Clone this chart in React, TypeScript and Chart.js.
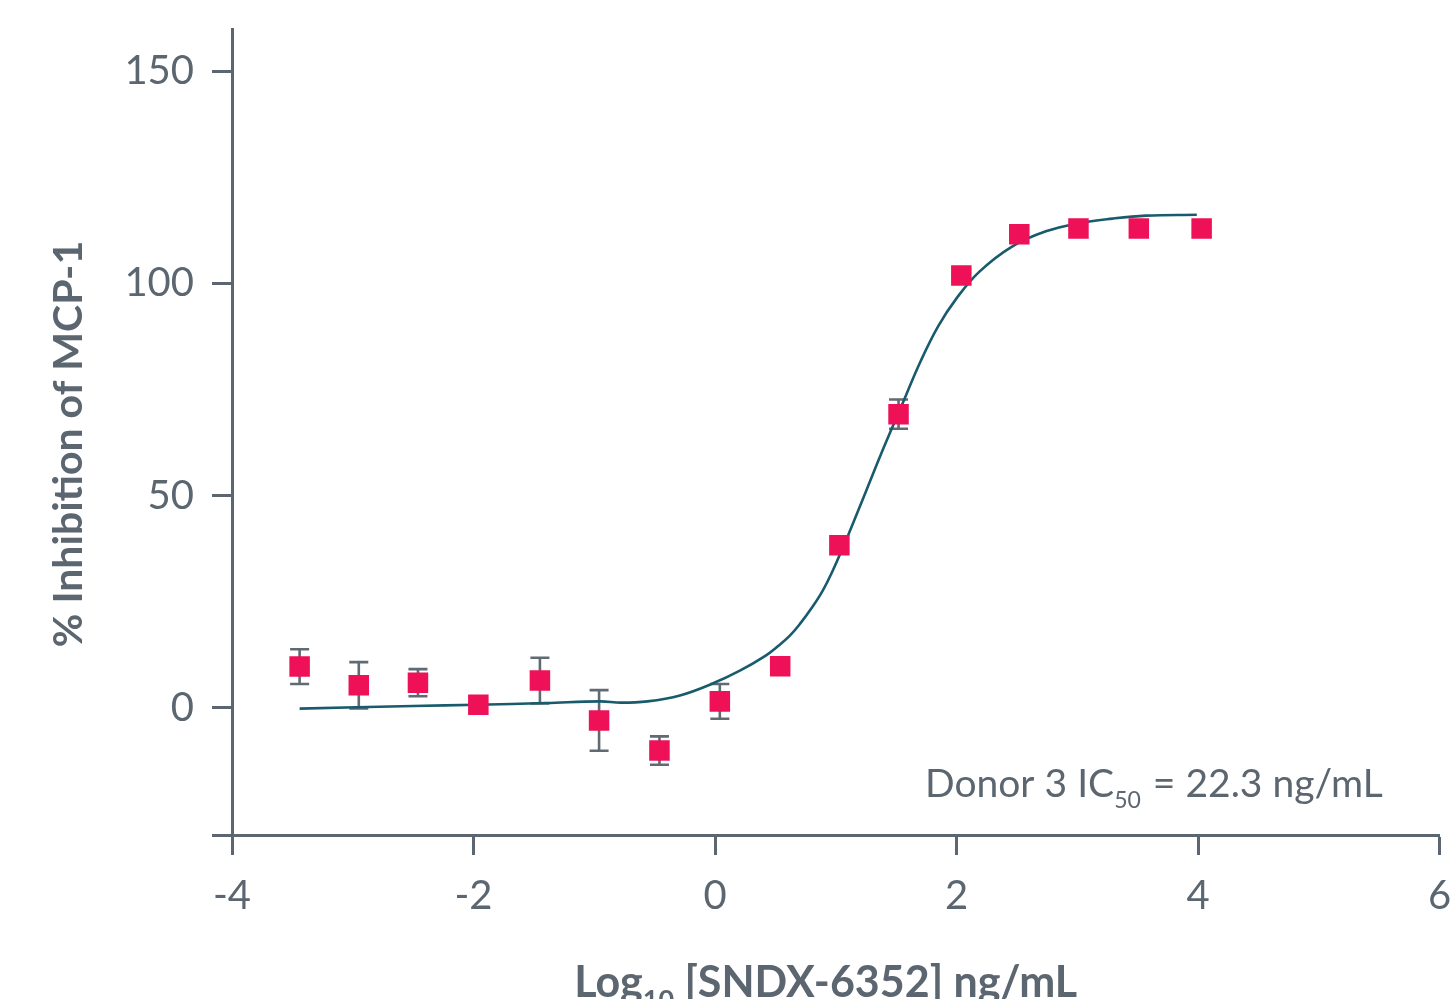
import React, { useEffect, useRef } from "react";
import { Chart, registerables } from "chart.js";

Chart.register(...registerables);

// ---- Data ----
const doseLog = [-3.44, -2.95, -2.46, -1.96, -1.45, -0.96, -0.46, 0.04, 0.54, 1.03, 1.52, 2.04, 2.52, 3.01, 3.51, 4.03];
const inhibition = [9.7, 5.3, 5.9, 0.7, 6.4, -3.0, -10.1, 1.5, 9.8, 38.3, 69.2, 101.9, 111.6, 113.0, 113.0, 113.0];
const errorSD = [4.1, 5.45, 3.2, 0, 5.4, 7.15, 3.35, 4.1, 0, 0, 3.45, 0, 0, 0, 0, 0];

const fitX = [-3.44, -2.5, -1.97, -1.4, -0.95, -0.78, -0.56, -0.29, -0.02, 0.21, 0.42, 0.52, 0.62, 0.71, 0.8, 0.89, 0.97, 1.1, 1.25, 1.4, 1.55, 1.7, 1.85, 2.0, 2.19, 2.46, 2.74, 3.01, 3.29, 3.57, 3.99];
const fitY = [-0.2, 0.4, 0.7, 1.1, 1.5, 1.2, 1.5, 2.9, 5.7, 8.8, 12.3, 14.5, 17.0, 20.0, 23.5, 27.5, 32.0, 40.5, 51.0, 61.5, 71.5, 81.5, 90.0, 96.5, 102.8, 108.7, 112.3, 114.2, 115.3, 116.0, 116.2];

const xTickValues = [-4, -2, 0, 2, 4, 6];
const yTickValues = [-30, 0, 50, 100, 150];
const yMin = -30;
const yMax = 160;
const xMin = -4;
const xMax = 6;

const yTitle = "% Inhibition of MCP-1";
const xTitleParts = ["Log", "10", " [SNDX-6352] ng/mL"];
const noteParts = ["Donor 3 IC", "50", " = 22.3 ng/mL"];

// ---- Styles ----
const AXIS = "#5b6670";
const MARKER = "#ee1157";
const CURVE = "#185b6d";
const ERR = "#5f6a72";
const FONT = "Lato";

const overlayPlugin = {
  id: "overlay",
  beforeDatasetsDraw(chart: any) {
    const { ctx, scales } = chart;
    const xs = scales.x;
    const ys = scales.y;
    ctx.save();
    ctx.strokeStyle = ERR;
    ctx.lineWidth = 2.6;
    for (let i = 0; i < doseLog.length; i++) {
      const e = errorSD[i];
      if (!e) continue;
      const px = xs.getPixelForValue(doseLog[i]);
      const top = ys.getPixelForValue(inhibition[i] + e);
      const bot = ys.getPixelForValue(inhibition[i] - e);
      const cap = 9.5;
      ctx.beginPath();
      ctx.moveTo(px, top);
      ctx.lineTo(px, bot);
      ctx.moveTo(px - cap, top);
      ctx.lineTo(px + cap, top);
      ctx.moveTo(px - cap, bot);
      ctx.lineTo(px + cap, bot);
      ctx.stroke();
    }
    ctx.restore();
  },
  afterDraw(chart: any) {
    const { ctx, chartArea } = chart;
    ctx.save();
    ctx.fillStyle = AXIS;
    ctx.textBaseline = "alphabetic";

    // Y title (rotated)
    ctx.font = `700 41px ${FONT}`;
    ctx.textAlign = "center";
    ctx.translate(82, (chartArea.top + chartArea.bottom) / 2 + 12);
    ctx.rotate(-Math.PI / 2);
    ctx.fillText(yTitle, 0, 0);
    ctx.setTransform(1, 0, 0, 1, 0, 0);

    // X title with subscript
    ctx.textAlign = "left";
    const big = `700 43px ${FONT}`;
    const small = `700 27px ${FONT}`;
    ctx.font = big;
    const w0 = ctx.measureText(xTitleParts[0]).width;
    const w2 = ctx.measureText(xTitleParts[2]).width;
    ctx.font = small;
    const w1 = ctx.measureText(xTitleParts[1]).width;
    const total = w0 + w1 + w2;
    const cx = (chartArea.left + chartArea.right) / 2 - 10;
    let x = cx - total / 2;
    const baseY = 997;
    ctx.font = big;
    ctx.fillText(xTitleParts[0], x, baseY);
    x += w0;
    ctx.font = small;
    ctx.fillText(xTitleParts[1], x, baseY + 12);
    x += w1;
    ctx.font = big;
    ctx.fillText(xTitleParts[2], x, baseY);

    // Annotation with subscript
    const nb = `400 39px ${FONT}`;
    const ns = `400 23px ${FONT}`;
    let nx = 925;
    const ny = 797;
    ctx.font = nb;
    ctx.fillText(noteParts[0], nx, ny);
    nx += ctx.measureText(noteParts[0]).width;
    ctx.font = ns;
    ctx.fillText(noteParts[1], nx, ny + 11);
    nx += ctx.measureText(noteParts[1]).width + 2;
    ctx.font = nb;
    ctx.fillText(noteParts[2], nx, ny);

    ctx.restore();
  },
};

export default function App() {
  const canvasRef = useRef<HTMLCanvasElement | null>(null);

  useEffect(() => {
    let chart: Chart | null = null;
    let cancelled = false;

    const build = () => {
      if (cancelled || !canvasRef.current) return;
      chart = new Chart(canvasRef.current, {
        type: "scatter",
        data: {
          datasets: [
            {
              label: "Observed",
              data: doseLog.map((d, i) => ({ x: d, y: inhibition[i] })),
              pointStyle: "rect",
              pointRadius: 14.5,
              pointHoverRadius: 14.5,
              backgroundColor: MARKER,
              borderWidth: 0,
              order: 0,
            } as any,
            {
              label: "Fit",
              data: fitX.map((d, i) => ({ x: d, y: fitY[i] })),
              showLine: true,
              pointRadius: 0,
              borderColor: CURVE,
              borderWidth: 2.6,
              tension: 0.4,
              fill: false,
              order: 1,
            } as any,
          ],
        },
        options: {
          responsive: false,
          animation: false,
          events: [],
          layout: { padding: { top: 29, right: 6, left: 0, bottom: 0 } },
          plugins: {
            legend: { display: false },
            tooltip: { enabled: false },
            title: { display: false },
          },
          scales: {
            x: {
              type: "linear",
              position: "bottom",
              min: xMin,
              max: xMax,
              afterBuildTicks: (s: any) => {
                s.ticks = xTickValues.map((value) => ({ value }));
              },
              ticks: {
                color: AXIS,
                font: { family: FONT, size: 40, weight: "400" as any },
                padding: 17,
                maxRotation: 0,
                autoSkip: false,
                callback: (v: any) => String(v),
              },
              grid: {
                drawOnChartArea: false,
                drawTicks: true,
                tickLength: 20,
                tickWidth: 3,
                tickColor: AXIS,
                color: AXIS,
              },
              border: { display: true, width: 3, color: AXIS },
              afterFit: (s: any) => {
                s.height = 164;
                s.paddingLeft = 0;
                s.paddingRight = 0;
              },
            },
            y: {
              type: "linear",
              min: yMin,
              max: yMax,
              afterBuildTicks: (s: any) => {
                s.ticks = yTickValues.map((value) => ({ value }));
              },
              ticks: {
                color: AXIS,
                font: { family: FONT, size: 40, weight: "400" as any },
                padding: 18,
                autoSkip: false,
                callback: (v: any) => (v === yMin ? "" : String(v)),
              },
              grid: {
                drawOnChartArea: false,
                drawTicks: true,
                tickLength: 20,
                tickWidth: 3,
                tickColor: AXIS,
                color: AXIS,
              },
              border: { display: true, width: 3, color: AXIS },
              afterFit: (s: any) => {
                s.width = 232;
                s.paddingTop = 0;
                s.paddingBottom = 0;
              },
            },
          },
        },
        plugins: [overlayPlugin],
      });
    };

    const fontsApi: any = (document as any).fonts;
    if (fontsApi && fontsApi.load) {
      Promise.all([
        fontsApi.load(`400 40px ${FONT}`),
        fontsApi.load(`700 40px ${FONT}`),
      ])
        .catch(() => null)
        .then(build);
    } else {
      build();
    }

    return () => {
      cancelled = true;
      if (chart) chart.destroy();
    };
  }, []);

  return (
    <div style={{ position: "fixed", left: 0, top: 0, width: 1454, height: 999, background: "#fff" }}>
      <canvas ref={canvasRef} width={1454} height={999} style={{ display: "block" }} />
    </div>
  );
}
